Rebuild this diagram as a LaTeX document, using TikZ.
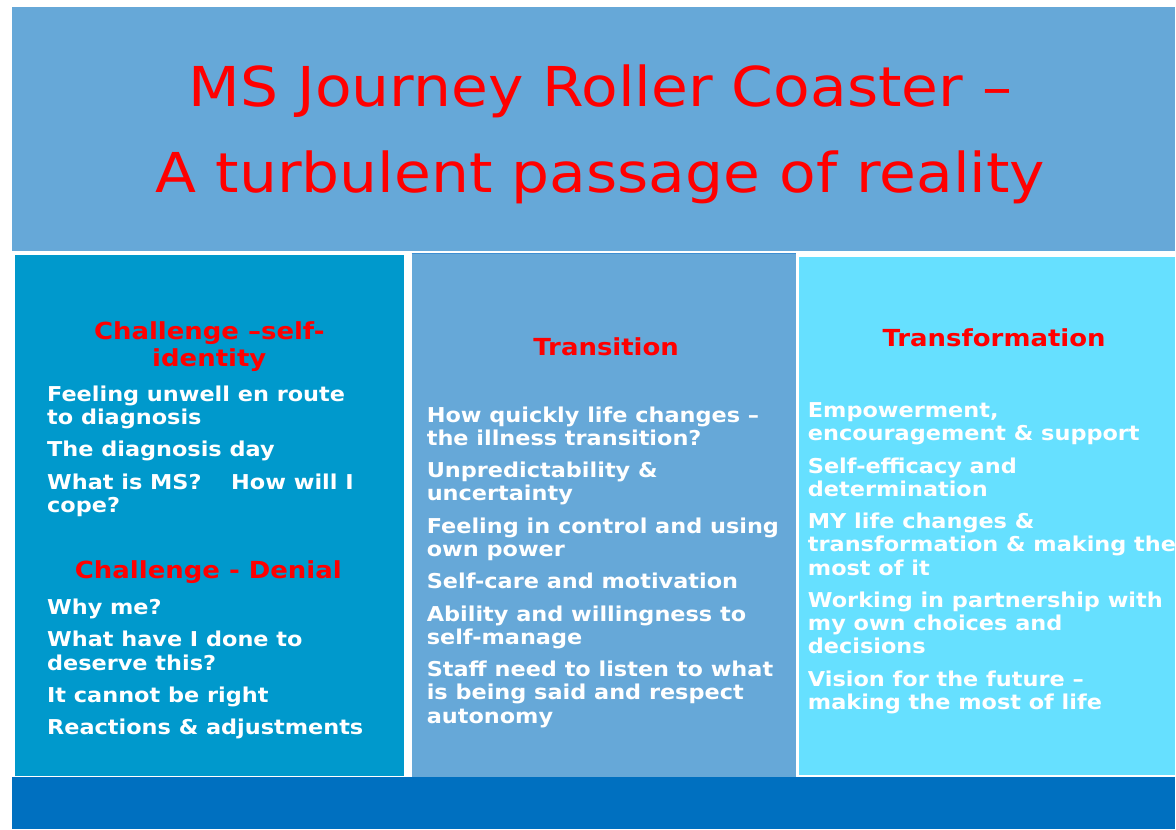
\documentclass[tikz,border=0pt]{standalone}
\usepackage{fontspec}
\setmainfont{DejaVu Sans}
\newfontfamily\titlefont{DejaVu Sans}[FakeStretch=1.09]
\newfontfamily\headfont{DejaVu Sans}[FakeStretch=1.105]
\newfontfamily\itemfont{DejaVu Sans}[FakeStretch=1.093]
\usetikzlibrary{positioning}

\definecolor{bandblue}{HTML}{66A8D8}
\definecolor{leftblue}{HTML}{0099CC}
\definecolor{rightblue}{HTML}{66E0FF}
\definecolor{footblue}{HTML}{0070C0}
\definecolor{edgeblue}{HTML}{3D8ED2}

\tikzset{
    panel/.style={anchor=north west, inner sep=0pt, outer sep=0pt},
    head/.style={text=red, font=\headfont\bfseries\fontsize{23.5}{26.5}\selectfont, align=center, inner sep=0pt},
    items/.style={text=white, font=\itemfont\bfseries\fontsize{20.5}{23.3}\selectfont, align=left, anchor=north west, inner sep=0pt},
}

\begin{document}
\begin{tikzpicture}[x=1pt, y=-1pt]
        \fill[white] (0,0) rectangle (1176,830);

        \node[panel, fill=bandblue, minimum width=1164pt, minimum height=244pt] (band) at (12,7) {};
        \node[panel, fill=leftblue, minimum width=389pt, minimum height=522pt] (leftcol) at (15,255) {};
        \node[panel, fill=bandblue, minimum width=385pt, minimum height=524pt] (midcol) at (412,254) {};
        \node[panel, fill=rightblue, minimum width=376pt, minimum height=519pt] (rightcol) at (800,257) {};
        \node[panel, fill=footblue, minimum width=1164pt, minimum height=52pt] (foot) at (12,778) {};
        \draw[edgeblue, line width=1pt] (midcol.north west) -- (midcol.north east);

        \node[anchor=north, inner sep=0pt, align=center, text=red, font=\titlefont\fontsize{55}{86}\selectfont] (title)
            at ([xshift=7pt, yshift=-58pt]band.north) {MS Journey Roller Coaster –\\A turbulent passage of reality};

        \node[head, anchor=north] (selfid) at ([yshift=-67pt]leftcol.north) {Challenge –self-\\identity};
        \node[items] (selfiditems) at ([xshift=32pt, yshift=-131pt]leftcol.north west)
            {Feeling unwell en route\\to diagnosis\\[9pt]The diagnosis day\\[9pt]What is MS?\hspace{1.45em}How will I\\cope?};
        \node[head, anchor=base] (denial) at ([xshift=-1pt, yshift=-324pt]leftcol.north) {Challenge - Denial};
        \node[items] (denialitems) at ([xshift=32pt, yshift=-344.4pt]leftcol.north west)
            {Why me?\\[9pt]What have I done to\\deserve this?\\[9pt]It cannot be right\\[9pt]Reactions \& adjustments};

        \node[head, anchor=base] (transition) at ([xshift=2.2pt, yshift=-101.7pt]midcol.north) {Transition};
        \node[items] (transitems) at ([xshift=15pt, yshift=-152.7pt]midcol.north west)
            {How quickly life changes –\\the illness transition?\\[9pt]Unpredictability \&\\uncertainty\\[9pt]Feeling in control and using\\own power\\[9pt]Self-care and motivation\\[9pt]Ability and willingness to\\self-manage\\[9pt]Staff need to listen to what\\is being said and respect\\autonomy};

        \node[head, anchor=base] (transform) at ([xshift=7pt, yshift=-89.7pt]rightcol.north) {Transformation};
        \node[items] (transformitems) at ([xshift=8.5pt, yshift=-145.7pt]rightcol.north west)
            {Empowerment,\\encouragement \& support\\[9pt]Self-efficacy and\\determination\\[9pt]MY life changes \&\\transformation \& making the\\most of it\\[9pt]Working in partnership with\\my own choices and\\decisions\\[9pt]Vision for the future –\\making the most of life};
\end{tikzpicture}
\end{document}
